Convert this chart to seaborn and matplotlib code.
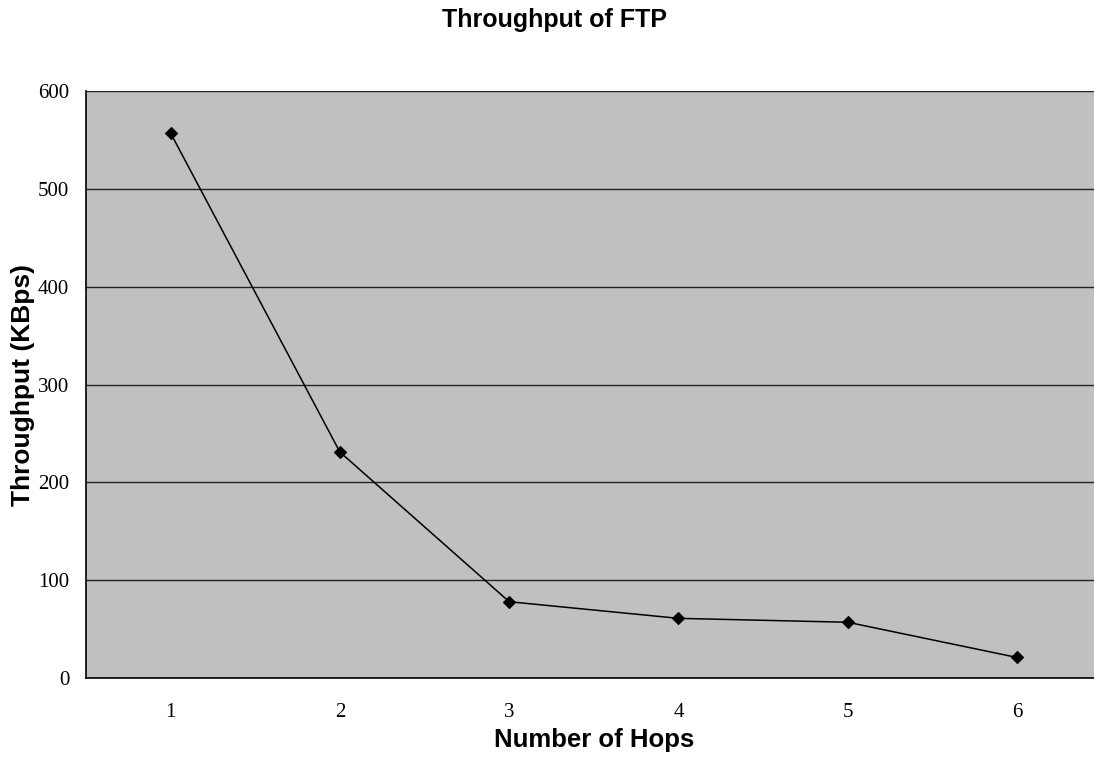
import matplotlib
matplotlib.use("Agg")
import matplotlib.pyplot as plt
import seaborn as sns
import pandas as pd

hops = ["1", "2", "3", "4", "5", "6"]
throughput = [557, 231, 78, 61, 57, 21]

df = pd.DataFrame({"hops": hops, "throughput": throughput})

sns.set_style("white")
plt.rcParams["font.family"] = ["Liberation Sans", "DejaVu Sans"]
plt.rcParams["text.color"] = "black"
plt.rcParams["axes.labelcolor"] = "black"
plt.rcParams["xtick.color"] = "black"
plt.rcParams["ytick.color"] = "black"

fig = plt.figure(figsize=(10.94, 7.59), dpi=100)
ax = fig.add_axes([0.0786, 0.1067, 0.9284, 0.7733])
ax.set_facecolor("#C0C0C0")

sns.pointplot(data=df, x="hops", y="throughput", ax=ax, color="black",
              markers="D", markersize=6, linewidth=1.1, errorbar=None)

ax.set_xlim(-0.5, 5.5)
ax.set_ylim(0, 600)
ax.set_yticks([0, 100, 200, 300, 400, 500, 600])
ax.yaxis.grid(True, color="#222222", linewidth=1.0)
ax.set_axisbelow(True)

for s in ["top", "right"]:
    ax.spines[s].set_visible(False)
for s in ["left", "bottom"]:
    ax.spines[s].set_color("black")
    ax.spines[s].set_linewidth(1.2)

# minor ticks between categories, inward
ax.set_xticks([0.5, 1.5, 2.5, 3.5, 4.5], minor=True)
ax.tick_params(axis="x", which="minor", direction="in", length=6, width=1, color="#333333")
ax.tick_params(axis="x", which="major", length=0, pad=18)
ax.tick_params(axis="y", which="major", length=0, pad=12)

for lab in ax.get_xticklabels() + ax.get_yticklabels():
    lab.set_fontfamily("Liberation Serif")
    lab.set_fontsize(15)

ax.set_xlabel("Number of Hops", fontsize=18.5, fontweight="bold",
              fontfamily="Liberation Sans", labelpad=4)
ax.set_ylabel("Throughput (KBps)", fontsize=19, fontweight="bold",
              fontfamily="Liberation Sans", labelpad=2)
fig.suptitle("Throughput of FTP", fontsize=18, fontweight="bold",
             fontfamily="Liberation Sans", x=0.507, y=0.99)

fig.savefig("out.png", dpi=100)
